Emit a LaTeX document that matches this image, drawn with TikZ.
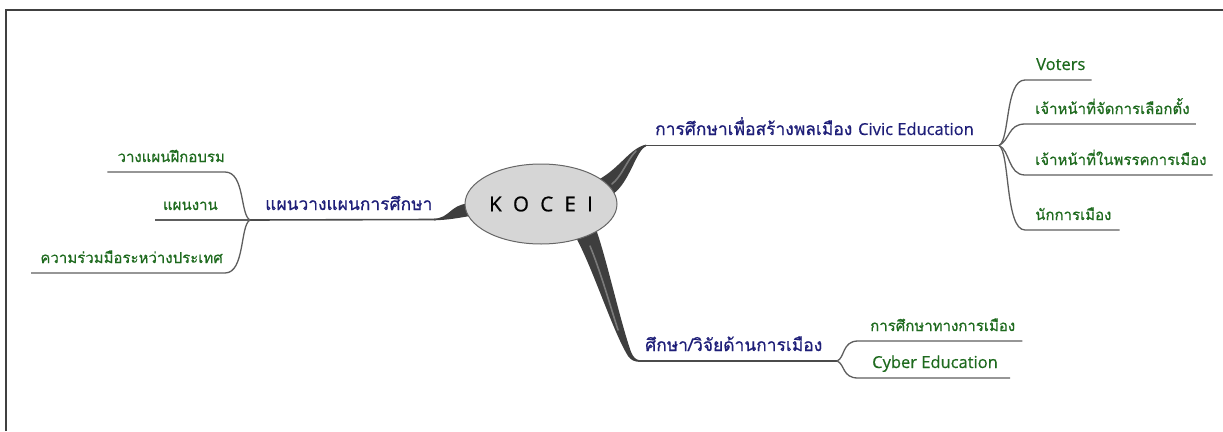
\documentclass[tikz,border=0pt]{standalone}
\usepackage{fontspec}
\newfontfamily\thai[Script=Thai,FakeBold=0.7]{Loma}
\newfontfamily\lat[FakeBold=0.5]{Open Sans}
\newfontfamily\latc[FakeBold=0.8]{Open Sans}
\usetikzlibrary{shapes.geometric}
\definecolor{navy}{HTML}{1E1E78}
\definecolor{leafgreen}{HTML}{1E6A1E}
\definecolor{linegray}{HTML}{5E5E5E}
\definecolor{trunkgray}{HTML}{3E3E3E}
\definecolor{trunklight}{HTML}{7A7A7A}
\definecolor{ellfill}{HTML}{D6D6D6}
\newcommand{\mfnt}{\fontsize{17.4}{20}\selectfont}
\newcommand{\efnt}{\fontsize{15}{20}\selectfont}
\newcommand{\lfnt}{\fontsize{16.5}{20}\selectfont}
\tikzset{
  mainlbl/.style={font=\mfnt\thai, text=navy, inner sep=0pt},
  leaflbl/.style={font=\efnt\thai, text=leafgreen, inner sep=0pt},
  conn/.style={draw=linegray, line width=1.3pt},
  mainline/.style={draw=linegray!80!black, line width=1.6pt},
  trunk/.style={fill=trunkgray},
  trunkhl/.style={draw=trunklight, line width=1.6pt, line cap=round},
  frameline/.style={draw=black!75, line width=1.5pt}
}
\begin{document}
\begin{tikzpicture}[x=1pt,y=-1pt]
\useasboundingbox (0,0) rectangle (1223,431);
\draw[frameline] (6,431) -- (6,10) -- (1223,10);

% hubs and branch ends
\coordinate (hubR) at (999,145.5);
\coordinate (hubL) at (250,220);
\coordinate (hubB) at (837,361);
\coordinate (tipR) at (645,145.5);
\coordinate (tipL) at (436,219.5);
\coordinate (tipB) at (638,361);

% trunks (drawn under the centre)
\fill[trunk] (598,180) .. controls (620,168) and (630,148) .. (646,144.6) -- (646,146.4) .. controls (636,150) and (630,182) .. (613,194) -- cycle;
\draw[trunkhl] (612,184) .. controls (622,176) and (627,160) .. (636,151);
\fill[trunk] (468,203.5) .. controls (450,205) and (450,218) .. (434,218.7) -- (434,220.3) .. controls (448,220) and (458,218) .. (470,216) -- cycle;
\fill[trunk] (574,234) .. controls (592,265) and (612,330) .. (628,356) .. controls (631,360) and (634,361.8) .. (640,361.8) -- (640,360.3) .. controls (636,360) and (633,357) .. (631,352) .. controls (620,320) and (608,265) .. (597,232) -- cycle;
\draw[trunkhl] (590,246) .. controls (600,270) and (610,305) .. (618,330);

% centre
\node[ellipse, draw=black!60, line width=1pt, fill=ellfill, minimum width=152pt, minimum height=80pt, inner sep=0pt, font=\fontsize{20.5}{24}\selectfont\latc] (core) at (541,204) {K\hspace{0.55em}O\hspace{0.55em}C\hspace{0.55em}E\hspace{0.55em}I};

% main lines
\draw[mainline] (tipR) -- (hubR);
\draw[mainline] (hubL) -- (tipL);
\draw[mainline] (tipB) -- (hubB);

% main labels
\node[mainlbl, anchor=base west] (civic) at (655,135) {การศึกษาเพื่อสร้างพลเมือง {\lfnt\lat Civic Education}};
\node[mainlbl, anchor=base west] (plan) at (265,210) {แผนวางแผนการศึกษา};
\node[mainlbl, anchor=base west] (research) at (645,351) {ศึกษา/วิจัยด้านการเมือง};

% right leaves
\node[leaflbl, anchor=base west, font=\lfnt\lat] (voters) at (1036,70) {Voters};
\node[leaflbl, anchor=base west] (officer) at (1035,114) {เจ้าหน้าที่จัดการเลือกตั้ง};
\node[leaflbl, anchor=base west] (party) at (1035,165) {เจ้าหน้าที่ในพรรคการเมือง};
\node[leaflbl, anchor=base west] (politician) at (1035,220) {นักการเมือง};

\draw[conn] (hubR) .. controls (1010,140) and (1005,80) .. (1025,80) -- (voters.base east |- 0,80) -- ++(6,0);
\draw[conn] (hubR) .. controls (1010,140) and (1008,124) .. (1025,124) -- (officer.base east |- 0,124) -- ++(6,0);
\draw[conn] (hubR) .. controls (1010,150) and (1008,175) .. (1025,175) -- (party.base east |- 0,175) -- ++(6,0);
\draw[conn] (hubR) .. controls (1010,152) and (1005,230) .. (1025,230) -- (politician.base east |- 0,230) -- ++(8,0);

% left leaves
\node[leaflbl, anchor=base east] (train) at (225,162) {วางแผนฝึกอบรม};
\node[leaflbl, anchor=base east] (work) at (218,210) {แผนงาน};
\node[leaflbl, anchor=base east] (coop) at (223,263) {ความร่วมมือระหว่างประเทศ};

\draw[conn] (hubL) .. controls (240,215) and (245,172) .. (225,172) -- (train.base west |- 0,172) -- ++(-10,0);
\draw[conn] (hubL) -- (work.base west |- 0,220) -- ++(-8,0);
\draw[conn] (hubL) .. controls (240,225) and (245,273) .. (225,273) -- (coop.base west |- 0,273) -- ++(-9,0);

% bottom leaves
\node[leaflbl, anchor=base west] (polstudy) at (870,331) {การศึกษาทางการเมือง};
\node[leaflbl, anchor=base west, font=\lfnt\lat] (cyber) at (872,368) {Cyber Education};

\draw[conn] (hubB) .. controls (845,358) and (842,341) .. (858,341) -- (polstudy.base east |- 0,341) -- ++(7,0);
\draw[conn] (hubB) .. controls (845,364) and (842,378) .. (858,378) -- (cyber.base east |- 0,378) -- ++(12,0);
\end{tikzpicture}
\end{document}
